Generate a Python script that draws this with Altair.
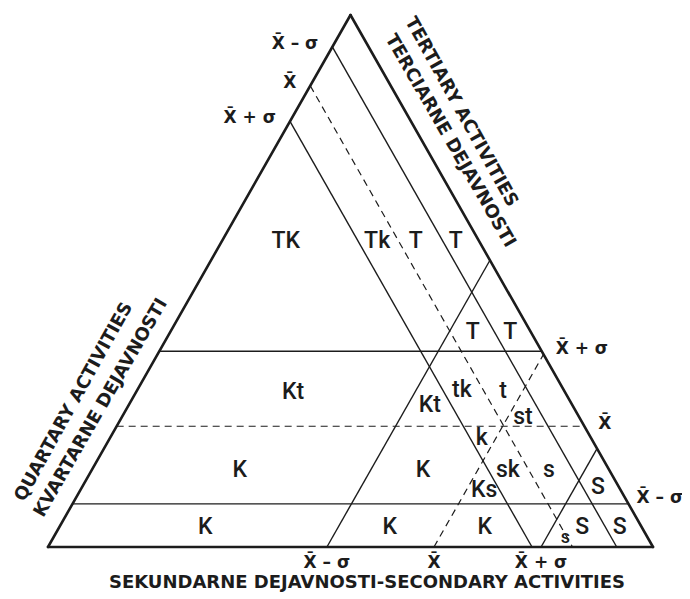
import altair as alt
import pandas as pd
import numpy as np

# ---------------- data ----------------
level_names = ["X\u0304 \u2013 \u03c3", "X\u0304", "X\u0304 + \u03c3"]
level_dashed = [False, True, False]
# quartary share levels: horizontal lines (fraction of triangle height)
quart_levels = [0.081, 0.227, 0.368]
# tertiary levels: lines parallel to the right edge (fraction along left edge from apex)
tert_levels = [0.060, 0.133, 0.200]
# secondary levels: lines parallel to the left edge (fraction along the base)
sec_levels = [0.461, 0.638, 0.815]

# region labels (X along base, Y up the height, in triangle units)
region_text = ["TK", "Tk", "T", "T", "T", "T", "Kt", "Kt", "tk", "t", "st", "k",
               "K", "K", "sk", "s", "Ks", "S", "K", "K", "K", "s", "S", "S"]
region_x = [0.393, 0.544, 0.608, 0.674, 0.702, 0.764, 0.405, 0.631, 0.684, 0.752, 0.785, 0.717,
            0.317, 0.620, 0.760, 0.828, 0.721, 0.909, 0.260, 0.565, 0.722, 0.855, 0.883, 0.945]
region_y = [0.575, 0.575, 0.575, 0.575, 0.404, 0.404, 0.291, 0.267, 0.295, 0.293, 0.244, 0.205,
            0.145, 0.145, 0.145, 0.145, 0.107, 0.113, 0.038, 0.038, 0.038, 0.017, 0.038, 0.038]
region_small = [False] * 21 + [True, False, False]

# ---------------- geometry (ternary -> cartesian) ----------------
segs = []
corners = [(0.0, 0.0), (1.0, 0.0), (0.5, 1.0)]
for i in range(3):
    (x1, y1), (x2, y2) = corners[i], corners[(i + 1) % 3]
    segs.append(dict(kind="frame", x=x1, y=y1, x2=x2, y2=y2))
for a, d in zip(quart_levels, level_dashed):
    segs.append(dict(kind="dash" if d else "solid", x=a / 2, y=a, x2=1 - a / 2, y2=a))
for b, d in zip(tert_levels, level_dashed):
    segs.append(dict(kind="dash" if d else "solid", x=(1 - b) / 2, y=1 - b, x2=1 - b, y2=0.0))
for c, d in zip(sec_levels, level_dashed):
    segs.append(dict(kind="dash" if d else "solid", x=c, y=0.0, x2=c + (1 - c) / 2, y2=1 - c))
seg_df = pd.DataFrame(segs)

left_lab = pd.DataFrame(dict(t=level_names, x=[(1 - b) / 2 for b in tert_levels],
                             y=[1 - b for b in tert_levels]))
right_lab = pd.DataFrame(dict(t=level_names, x=[1 - a / 2 for a in quart_levels], y=quart_levels,
                              i=[0, 1, 2]))
bottom_lab = pd.DataFrame(dict(t=level_names, x=sec_levels, y=[0.0] * 3))
reg_df = pd.DataFrame(dict(t=region_text, x=region_x, y=region_y, small=region_small))

# ---------------- layout ----------------
W, H = 674, 585
PPX, PPY = 605.0, 532.0          # pixels per triangle unit
X0, Y0 = 40.0, 539.0             # plot-pixel position of the bottom-left corner
xs = alt.Scale(domain=[-X0 / PPX, (W - X0) / PPX], nice=False, zero=False)
ys = alt.Scale(domain=[-(H - Y0) / PPY, Y0 / PPY], nice=False, zero=False)
FONT = "Roboto"
LFONT = "DejaVu Sans"
INK = "#1c1c1c"


def enc(c, **kw):
    return c.encode(x=alt.X("x:Q", scale=xs, axis=None), y=alt.Y("y:Q", scale=ys, axis=None), **kw)


frame = enc(alt.Chart(seg_df).transform_filter("datum.kind == 'frame'").mark_rule(
    color=INK, strokeWidth=2.6, strokeCap="round"), x2="x2:Q", y2="y2:Q")
solid = enc(alt.Chart(seg_df).transform_filter("datum.kind == 'solid'").mark_rule(
    color=INK, strokeWidth=1.4), x2="x2:Q", y2="y2:Q")
dash = enc(alt.Chart(seg_df).transform_filter("datum.kind == 'dash'").mark_rule(
    color=INK, strokeWidth=1.2, strokeDash=[7, 5]), x2="x2:Q", y2="y2:Q")

regions = enc(alt.Chart(reg_df).transform_filter("!datum.small").mark_text(
    font=FONT, fontSize=23, fontWeight=500, color=INK, baseline="middle", align="center"), text="t:N")
regions_small = enc(alt.Chart(reg_df).transform_filter("datum.small").mark_text(
    font=FONT, fontSize=18, fontWeight=500, color=INK, baseline="middle", align="center"), text="t:N")

lab_style = dict(font=LFONT, fontSize=17, fontWeight="bold", color=INK)
left_t = enc(alt.Chart(left_lab).mark_text(align="right", baseline="alphabetic", dx=-14, dy=2, **lab_style), text="t:N")
right_t = enc(alt.Chart(right_lab).transform_filter("datum.i > 0").mark_text(
    align="left", baseline="alphabetic", dx=14, dy=3, **lab_style), text="t:N")
right_t0 = enc(alt.Chart(right_lab).transform_filter("datum.i == 0").mark_text(
    align="left", baseline="alphabetic", dx=8, dy=-1, **lab_style), text="t:N")
bottom_t = enc(alt.Chart(bottom_lab).mark_text(align="center", baseline="alphabetic", dx=0, dy=21, **lab_style), text="t:N")

title_rows = pd.DataFrame(dict(
    t=["SEKUNDARNE  DEJAVNOSTI-SECONDARY ACTIVITIES",
       "TERTIARY ACTIVITIES", "TERCIARNE DEJAVNOSTI",
       "QUARTARY ACTIVITIES", "KVARTARNE DEJAVNOSTI"],
    px=[359, 453, 442, 66, 93],
    py=[575, 104, 133, 394, 400],
    ang=[0, 61, 60, -61, -60],
))
titles = []
for _, r in title_rows.iterrows():
    titles.append(alt.Chart(pd.DataFrame({"t": [r.t]})).mark_text(
        font=LFONT, fontSize=18, fontWeight="bold", color=INK, align="center", baseline="middle",
        angle=(r.ang % 360), x=float(r.px), y=float(r.py)).encode(text="t:N"))

chart = alt.layer(frame, solid, dash, regions, regions_small, left_t, right_t, right_t0, bottom_t,
                  *titles).properties(
    width=W, height=H, autosize=alt.AutoSizeParams(type="none"), padding=0, background="white"
).configure_view(stroke=None)

chart.save("out.html", embed_options={"renderer": "svg", "actions": False})
